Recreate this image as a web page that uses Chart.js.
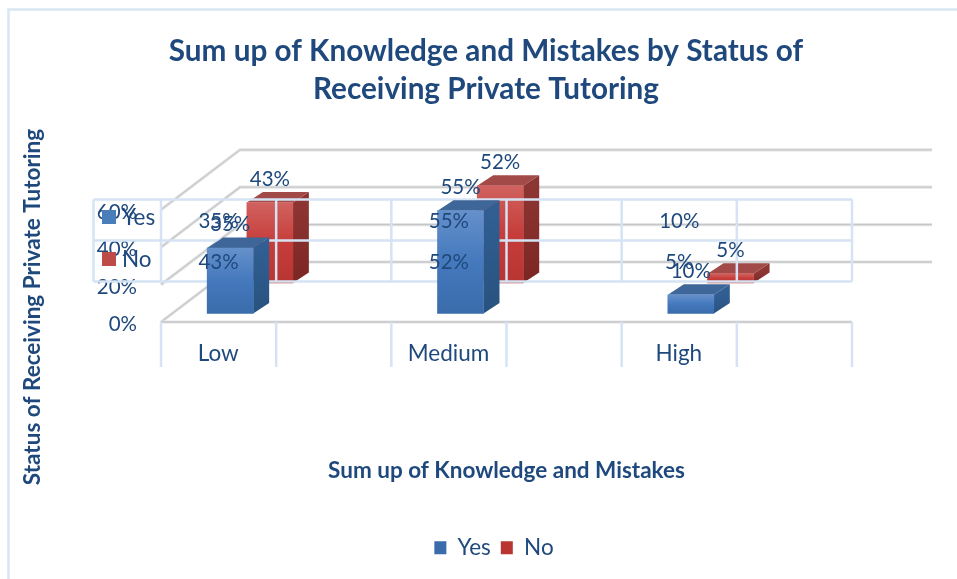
<!DOCTYPE html>
<html><head><meta charset="utf-8">
<script src="https://cdn.jsdelivr.net/npm/chart.js@4"></script>
<style>html,body{margin:0;padding:0;background:#fff}#w{width:957px;height:579px;position:relative}</style>
</head><body><div id="w"><canvas id="c" width="957" height="579"></canvas></div>
<script>
const categories = ['Low', 'Medium', 'High'];
const seriesYes = [35, 55, 10];
const seriesNo = [43, 52, 5];
const valueTicks = [0, 20, 40, 60];
const titleLines = ['Sum up of Knowledge and Mistakes by Status of', 'Receiving Private Tutoring'];
const xTitle = 'Sum up of Knowledge and Mistakes';
const yTitle = 'Status of Receiving Private Tutoring';

const INK = '#1f497d', FONT = 'Lato, Carlito, Calibri, sans-serif', TABLE = '#d5e3f4';
const SHIFT = [{dx: -46, dy: -8.5}, {dx: -6.3, dy: -39}];          // depth position of each series
const DEPTH = {dx: 16, dy: -10.5};
const FACES = [
  {grad: ['#6590ca', '#4479bd', '#3a6cab'], side: ['#315f93', '#28527f'], top: '#3f6699'},
  {grad: ['#d0625f', '#c63d3a', '#b83532'], side: ['#8d3533', '#7c2624'], top: '#a24a47'}
];
const SOLID = ['#4a7ebb', '#be4b48'];

function face(i) {
  return c => {
    if (c.raw === undefined || !c.chart.chartArea) return SOLID[i];
    const s = c.chart.scales.y, g = c.chart.ctx.createLinearGradient(0, s.getPixelForValue(c.raw), 0, s.getPixelForValue(0));
    g.addColorStop(0, FACES[i].grad[0]); g.addColorStop(.5, FACES[i].grad[1]); g.addColorStop(1, FACES[i].grad[2]);
    return g;
  };
}
function line(ctx, a, b, c, d) { ctx.beginPath(); ctx.moveTo(a, b); ctx.lineTo(c, d); ctx.stroke(); }
function poly(ctx, pts, fill) {
  ctx.beginPath(); pts.forEach((p, i) => i ? ctx.lineTo(p[0], p[1]) : ctx.moveTo(p[0], p[1])); ctx.closePath();
  ctx.fillStyle = fill; ctx.fill();
}
function tableLines(chart) {
  const ctx = chart.ctx, a = chart.chartArea, w = (a.right - a.left) / 6;
  const top = 199.5, mid = 240.5, bot = 281.5, left = 93.5;
  ctx.save(); ctx.strokeStyle = TABLE; ctx.lineWidth = 2.5;
  [top, mid, bot].forEach(y => line(ctx, left, y, a.right, y));
  line(ctx, left, top, left, bot);
  for (let i = 0; i <= 6; i++) {
    const x = a.left + i * w;
    line(ctx, x, top, x, bot);
    line(ctx, x, a.bottom, x, 367);
  }
  ctx.restore();
}

const threeD = {
  id: 'threeD',
  afterLayout(chart) { chart.legend.left += 16; },
  beforeDraw(chart) {
    const ctx = chart.ctx, a = chart.chartArea, s = chart.scales.y;
    ctx.save();
    // outer chart frame
    ctx.strokeStyle = '#d9e6f5'; ctx.lineWidth = 2.5;
    ctx.beginPath(); ctx.moveTo(8.5, 579); ctx.lineTo(8.5, 9.5); ctx.lineTo(957, 9.5); ctx.stroke();
    // walls: value gridlines run back from the front plane, then along the back wall
    valueTicks.forEach(v => {
      const y = s.getPixelForValue(v);
      [['#e3e4e6', 3.2], ['#c6c7c9', 1.3]].forEach(([col, lw]) => {
        ctx.strokeStyle = col; ctx.lineWidth = lw;
        ctx.beginPath(); ctx.moveTo(a.left, y); ctx.lineTo(a.left + 79, y - 60); ctx.lineTo(932, y - 60); ctx.stroke();
      });
    });
    // front floor edge
    [['#e3e4e6', 3.2], ['#c6c7c9', 1.3]].forEach(([col, lw]) => {
      ctx.strokeStyle = col; ctx.lineWidth = lw;
      line(ctx, a.left, a.bottom, a.right, a.bottom);
    });
    ctx.restore();
  },
  beforeDatasetDraw(chart, args) {
    const ctx = chart.ctx, i = args.index, sh = SHIFT[i];
    if (i === 0) tableLines(chart);
    ctx.save();
    ctx.translate(sh.dx, sh.dy);
    chart.getDatasetMeta(i).data.forEach(el => {
      const p = el.getProps(['x', 'y', 'base', 'width'], true), r = p.x + p.width / 2, l = p.x - p.width / 2;
      const g = ctx.createLinearGradient(0, p.y, 0, p.base);
      g.addColorStop(0, FACES[i].side[0]); g.addColorStop(1, FACES[i].side[1]);
      poly(ctx, [[r, p.y], [r + DEPTH.dx, p.y + DEPTH.dy], [r + DEPTH.dx, p.base + DEPTH.dy], [r, p.base]], g);
      poly(ctx, [[l, p.y], [l + DEPTH.dx, p.y + DEPTH.dy], [r + DEPTH.dx, p.y + DEPTH.dy], [r, p.y]], FACES[i].top);
    });
  },
  afterDatasetDraw(chart) { chart.ctx.restore(); },
  afterDatasetsDraw(chart) {
    const ctx = chart.ctx, a = chart.chartArea, w = (a.right - a.left) / 6;
    ctx.save();
    ctx.fillStyle = INK; ctx.textAlign = 'center'; ctx.textBaseline = 'middle';
    ctx.font = '20.5px ' + FONT;
    // data labels
    [seriesYes, seriesNo].forEach((vals, i) => {
      chart.getDatasetMeta(i).data.forEach((el, k) => {
        ctx.fillText(vals[k] + '%', el.x + SHIFT[i].dx, el.y + SHIFT[i].dy - 23.5);
      });
    });
    // data table
    const rows = [[seriesYes, 221, 'Yes', 218, 0], [seriesNo, 262, 'No', 260, 1]];
    rows.forEach(([vals, y, name, ky, i]) => {
      ctx.font = '20.5px ' + FONT;
      vals.forEach((v, k) => ctx.fillText(v + '%', a.left + (2 * k + .5) * w, y));
      ctx.textAlign = 'left'; ctx.font = '22.5px ' + FONT; ctx.fillText(name, 122, ky); ctx.textAlign = 'center';
      ctx.fillStyle = SOLID[i]; ctx.fillRect(102, ky - 8, 14, 14); ctx.fillStyle = INK;
    });
    // value-axis title
    ctx.save();
    ctx.translate(33, 307); ctx.rotate(-Math.PI / 2);
    ctx.font = 'bold 22.5px ' + FONT;
    ctx.fillText(yTitle, 0, 0);
    ctx.restore();
    ctx.restore();
  }
};

new Chart(document.getElementById('c'), {
  type: 'bar',
  plugins: [threeD],
  data: {
    labels: categories,
    datasets: [
      {label: 'Yes', data: seriesYes, grouped: false, barThickness: 46, backgroundColor: face(0), clip: false},
      {label: 'No', data: seriesNo, grouped: false, barThickness: 46, backgroundColor: face(1), clip: false}
    ]
  },
  options: {
    responsive: false, animation: false,
    layout: {padding: {left: 15, right: 0, top: 0, bottom: 10}},
    plugins: {
      tooltip: {enabled: false},
      title: {display: true, text: titleLines, color: INK, align: 'center',
        font: {family: FONT, size: 29.7, weight: 'bold', lineHeight: 1.31}, padding: {top: 31.5, bottom: 100.5}},
      legend: {position: 'bottom', labels: {color: INK, boxWidth: 12, boxHeight: 13, padding: 10,
        font: {family: FONT, size: 22.5}}}
    },
    scales: {
      x: {
        grid: {display: false}, border: {display: false},
        ticks: {color: INK, font: {family: FONT, size: 22.5}, labelOffset: -58, padding: 10, maxRotation: 0},
        title: {display: true, text: xTitle, color: INK, font: {family: FONT, size: 22.5, weight: 'bold'}, padding: {top: 60, bottom: 42}},
        afterFit(s) { s.height = 204.5; }
      },
      y: {
        min: 0, max: 60,
        afterBuildTicks(s) { s.ticks = valueTicks.map(v => ({value: v})); },
        grid: {display: false, drawTicks: false}, border: {display: false},
        ticks: {color: INK, font: {family: FONT, size: 20.5}, padding: 24, labelOffset: 2.5, callback: v => v + '%'},
        afterFit(s) { s.width = 146; }
      },
      rightMargin: {
        position: 'right', display: true, min: 0, max: 1,
        grid: {display: false, drawTicks: false}, border: {display: false}, ticks: {display: false},
        afterFit(s) { s.width = 105; }
      }
    }
  }
});
</script></body></html>
